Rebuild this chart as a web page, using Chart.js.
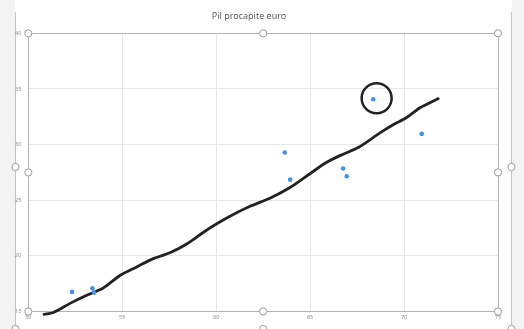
<!DOCTYPE html>
<html>
<head>
<meta charset="utf-8">
<script src="https://cdn.jsdelivr.net/npm/chart.js@4.4.1/dist/chart.umd.min.js"></script>
<style>
  html, body { margin: 0; padding: 0; background: #ffffff; }
  #wrap { width: 524px; height: 329px; position: relative; }
</style>
</head>
<body>
<div id="wrap"><canvas id="c" width="524" height="329"></canvas></div>
<script>
// GDP per capita observations
const pilX = [52.33, 53.41, 53.50, 63.65, 63.94, 66.76, 66.95, 68.36, 70.94];
const pilY = [16.76, 17.08, 16.70, 29.29, 26.85, 27.85, 27.15, 34.07, 30.96];

// freehand trend stroke
const trendX = [50.84, 51.33, 52.22, 53.11, 53.99, 54.88, 55.77, 56.65, 57.54, 58.43, 59.31, 60.03,
                60.91, 61.80, 62.86, 63.93, 64.99, 65.88, 66.76, 67.56, 68.72, 69.42, 70.14, 70.85, 71.82];
const trendY = [14.74, 14.91, 15.73, 16.46, 17.11, 18.24, 19.01, 19.75, 20.28, 21.07, 22.10, 22.88,
                23.71, 24.45, 25.18, 26.14, 27.38, 28.41, 29.14, 29.73, 31.05, 31.78, 32.43, 33.31, 34.13];

// freehand ring around the highlighted observation
const ringX = [68.54];
const ringY = [34.17];

// axis ticks
const xTicks = [50, 55, 60, 65, 70, 75];
const yTicks = [15, 20, 25, 30, 35, 40];

const toPoints = (xs, ys) => xs.map((x, i) => ({ x: x, y: ys[i] }));

// draws a small selection handle
function handle(ctx, x, y) {
  ctx.beginPath();
  ctx.arc(x, y, 3.6, 0, Math.PI * 2);
  ctx.fillStyle = '#ffffff';
  ctx.fill();
  ctx.lineWidth = 1;
  ctx.strokeStyle = '#9a9a9a';
  ctx.stroke();
}

const frame = {
  id: 'frame',
  beforeDraw(chart) {
    const ctx = chart.ctx;
    ctx.save();
    ctx.fillStyle = '#ffffff';
    ctx.fillRect(0, 0, 524, 329);
    ctx.fillStyle = '#f3f3f3';
    ctx.fillRect(0, 0, 15, 329);
    ctx.fillRect(512, 0, 12, 329);
    ctx.strokeStyle = '#c4c4c4';
    ctx.lineWidth = 1;
    ctx.beginPath();
    ctx.moveTo(15.5, 12); ctx.lineTo(15.5, 329);
    ctx.moveTo(511.5, 12); ctx.lineTo(511.5, 329);
    ctx.stroke();
    ctx.restore();
  },
  afterDraw(chart) {
    const ctx = chart.ctx;
    const a = chart.chartArea;
    const mx = (a.left + a.right) / 2;
    const my = (a.top + a.bottom) / 2;
    ctx.save();
    [[a.left, a.top], [mx, a.top], [a.right, a.top],
     [a.left, my], [a.right, my],
     [a.left, a.bottom], [mx, a.bottom], [a.right, a.bottom]].forEach(p => handle(ctx, p[0], p[1]));
    handle(ctx, 15.5, 167);
    handle(ctx, 511.5, 167);
    handle(ctx, 15.5, 329);
    handle(ctx, mx, 329);
    handle(ctx, 511.5, 329);
    ctx.restore();
  }
};

new Chart(document.getElementById('c'), {
  type: 'scatter',
  data: {
    datasets: [
      {
        label: 'trend',
        data: toPoints(trendX, trendY),
        showLine: true,
        borderColor: '#222222',
        borderWidth: 2.8,
        pointRadius: 0,
        tension: 0.3,
        borderCapStyle: 'round',
        borderJoinStyle: 'round',
        clip: false,
        order: 2
      },
      {
        label: 'Pil procapite euro',
        data: toPoints(pilX, pilY),
        pointRadius: 2.3,
        pointBackgroundColor: '#4a8fdc',
        pointBorderColor: '#4a8fdc',
        pointBorderWidth: 0,
        order: 1
      },
      {
        label: 'ring',
        data: toPoints(ringX, ringY),
        pointRadius: 15,
        pointBackgroundColor: 'rgba(0,0,0,0)',
        pointBorderColor: '#222222',
        pointBorderWidth: 2.5,
        clip: false,
        order: 0
      }
    ]
  },
  options: {
    responsive: false,
    animation: false,
    events: [],
    layout: { padding: { left: 0, right: 26, top: 0, bottom: 0 } },
    plugins: {
      legend: { display: false },
      tooltip: { enabled: false },
      title: {
        display: true,
        text: 'Pil procapite euro',
        color: '#606060',
        font: { family: 'Noto Sans', size: 9, weight: 'normal', lineHeight: 1.2 },
        padding: { top: 10.6, bottom: 11.9 }
      }
    },
    scales: {
      x: {
        type: 'linear',
        min: 50,
        max: 75,
        afterFit: s => { s.height = 11.7; },
        afterBuildTicks: s => { s.ticks = xTicks.map(v => ({ value: v })); },
        ticks: {
          color: '#8a8a8a',
          font: { family: 'Noto Sans', size: 5.5 },
          padding: 3,
          maxRotation: 0
        },
        grid: {
          drawTicks: false,
          color: c => (c.tick && c.tick.value === 75 ? '#b3b3b3' : '#e6e6e6'),
          lineWidth: 1
        },
        border: { display: true, color: '#b3b3b3', width: 1 }
      },
      y: {
        type: 'linear',
        min: 15,
        max: 40,
        afterFit: s => { s.width = 28.3; },
        afterBuildTicks: s => { s.ticks = yTicks.map(v => ({ value: v })); },
        ticks: {
          color: '#8a8a8a',
          font: { family: 'Noto Sans', size: 5.5 },
          padding: 7
        },
        grid: {
          drawTicks: false,
          color: c => (c.tick && c.tick.value === 40 ? '#b3b3b3' : '#e6e6e6'),
          lineWidth: 1
        },
        border: { display: true, color: '#b3b3b3', width: 1 }
      }
    }
  },
  plugins: [frame]
});
</script>
</body>
</html>
